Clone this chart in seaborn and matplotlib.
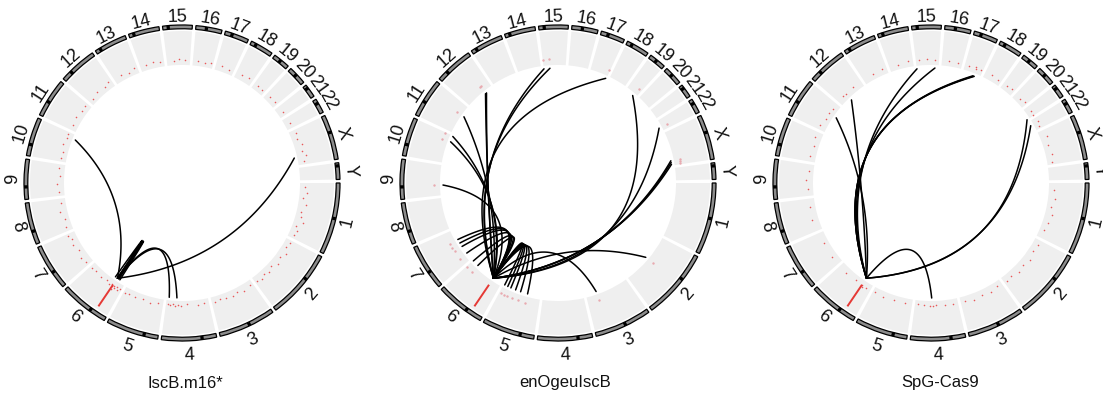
import numpy as np
import pandas as pd
import matplotlib
matplotlib.use("Agg")
import matplotlib.pyplot as plt
from matplotlib.patches import Wedge
import seaborn as sns

sns.set_theme(style="white")
plt.rcParams["font.family"] = ["Liberation Sans", "DejaVu Sans"]

# ---------------- data ----------------
chroms = [str(i) for i in range(1, 23)] + ["X", "Y"]
chrom_sizes = [248.96, 242.19, 198.30, 190.21, 181.54, 170.81, 159.35, 145.14,
               138.39, 133.80, 135.09, 133.28, 114.36, 107.04, 101.99, 90.34,
               83.26, 80.37, 58.62, 64.44, 46.71, 50.82, 156.04, 57.23]
centromeres = [123.4, 93.9, 90.9, 50.0, 48.8, 59.8, 60.1, 45.2, 43.0, 39.8, 53.4,
               35.5, 17.7, 17.2, 19.0, 36.8, 25.1, 18.5, 26.2, 28.1, 12.0, 15.0,
               60.6, 10.4]
panel_titles = ["IscB.m16*", "enOgeuIscB", "SpG-Cas9"]
target_chrom = "6"
target_pos = 43.7

links_iscb_chrom = ["10", "X", "4", "4", "6", "6", "6"]
links_iscb_pos = [112, 120, 143, 179, 30, 36, 55]

links_enog_chrom = ["15", "15", "17", "19", "22", "X", "X", "X", "2", "3",
                    "5", "5", "5", "5", "5", "5", "7", "7", "7", "7", "6", "6",
                    "9", "10", "10", "11", "12", "12"]
links_enog_pos = [1, 29, 80, 42, 33, 133, 141, 150, 117, 148,
                  61, 95, 120, 144, 160, 176, 109, 90, 71, 33, 168, 138,
                  47, 103, 130, 90, 91, 97]

links_spg_chrom = ["11", "12", "15", "15", "17", "17", "17", "21", "22", "4"]
links_spg_pos = [84, 47, 1, 85, 50, 54, 57, 46, 20, 116]

# scatter-track points (positions in Mb and track value), one inner list per chromosome
dots_iscb_pos = [[18, 42, 66, 95, 128, 150, 172, 196, 214, 236],
                 [12, 38, 61, 88, 115, 142, 168, 190, 212, 233],
                 [15, 48, 79, 104, 133, 160, 186],
                 [22, 48, 96, 122, 138, 150, 160, 171, 183],
                 [25, 58, 92, 126, 158, 175],
                 [8, 18, 26, 33, 38, 41, 46, 51, 60, 78, 105, 140, 162],
                 [15, 42, 75, 108, 130, 152],
                 [20, 55, 90, 125],
                 [18, 52, 88, 120],
                 [15, 45, 78, 105, 125],
                 [25, 62, 95, 120],
                 [20, 55, 92, 118],
                 [35, 70, 100],
                 [28, 60, 90],
                 [30, 55, 80],
                 [22, 55, 80],
                 [25, 60],
                 [28, 62],
                 [20, 45],
                 [22, 50],
                 [30],
                 [28],
                 [15, 42, 70, 98, 118, 140],
                 []]
dots_iscb_val = [[.35, .55, .25, .6, .3, .45, .7, .25, .5, .35],
                 [.4, .25, .55, .35, .6, .25, .45, .3, .5, .4],
                 [.3, .5, .25, .45, .35, .25, .4],
                 [.25, .3, .2, .3, .25, .35, .2, .3, .25],
                 [.3, .45, .25, .35, .3, .4],
                 [.35, .5, .3, .55, .4, .7, .45, .35, .5, .3, .4, .3, .45],
                 [.4, .6, .3, .5, .35, .55],
                 [.45, .3, .55, .35],
                 [.35, .5, .3, .45],
                 [.4, .3, .55, .35, .45],
                 [.35, .5, .3, .45],
                 [.3, .45, .35, .5],
                 [.4, .3, .45],
                 [.35, .45, .3],
                 [.3, .4, .35],
                 [.35, .3, .4],
                 [.4, .3],
                 [.35, .45],
                 [.4, .3],
                 [.35, .4],
                 [.4],
                 [.35],
                 [.5, .35, .6, .4, .7, .45],
                 []]

dots_spg_pos = [[30, 70, 105, 140, 175, 210],
                [20, 55, 95, 130, 165, 200, 230],
                [25, 60, 100, 140, 180],
                [20, 60, 95, 110, 125, 150, 175],
                [30, 80, 130, 170],
                [20, 38, 44, 80, 130],
                [40, 110],
                [50, 110],
                [30, 70, 110],
                [25, 70, 110],
                [20, 55, 84, 110],
                [30, 47, 90],
                [50, 95],
                [40, 85],
                [15, 50, 85],
                [30, 70],
                [20, 50, 54, 75],
                [30, 65],
                [20, 45],
                [30, 55],
                [25, 44],
                [20, 40],
                [30, 70, 110, 145],
                []]
dots_spg_val = [[.35, .5, .3, .55, .4, .3],
                [.4, .3, .55, .35, .5, .3, .45],
                [.3, .45, .35, .5, .3],
                [.3, .35, .25, .3, .35, .3, .25],
                [.35, .3, .4, .3],
                [.4, .5, .35, .3, .45],
                [.4, .3],
                [.45, .35],
                [.35, .5, .3],
                [.4, .3, .5],
                [.5, .35, .45, .3],
                [.4, .35, .45],
                [.35, .4],
                [.3, .45],
                [.35, .4, .3],
                [.4, .3],
                [.35, .45, .3, .4],
                [.4, .3],
                [.35, .4],
                [.3, .4],
                [.35, .3],
                [.4, .3],
                [.5, .35, .45, .3],
                []]

# ---------------- layout ----------------
W, H = 1103, 396
PX = 158.0                # pixels per unit radius
CY = 183.0
centers_px = [182, 558, 931]
title_px = [185, 565, 940]
HALF = 172

GAP = 1.3
scale = (360 - GAP * len(chroms)) / sum(chrom_sizes)
starts = {}
acc = 0.0
for i, (c, s) in enumerate(zip(chroms, chrom_sizes)):
    starts[c] = acc * scale + i * GAP
    acc += s

R_IDEO_OUT, R_IDEO_W = 1.0, 0.024
R_TRACK_OUT, R_TRACK_IN = 0.962, 0.747
R_LINK = 0.728
H_LINK = 0.285


def theta(c, pos):
    return starts[c] + pos * scale


def xy(th, r):
    a = np.radians(-th)
    return r * np.cos(a), r * np.sin(a)


def link_curve(th0, th1, n=80):
    p0 = np.array(xy(th0, R_LINK))
    p2 = np.array(xy(th1, R_LINK))
    mid = (th0 + th1) / 2.0
    if abs(th1 - th0) > 180:
        mid += 180
    apex = np.array(xy(mid, R_LINK - H_LINK))
    m = (p0 + p2) / 2.0
    ctrl = 2 * apex - m
    t = np.linspace(0, 1, n)[:, None]
    pts = (1 - t) ** 2 * p0 + 2 * (1 - t) * t * ctrl + t ** 2 * p2
    return pts


fig = plt.figure(figsize=(W / 100, H / 100), dpi=100)
fig.patch.set_facecolor("white")

panels = [
    (links_iscb_chrom, links_iscb_pos, dots_iscb_pos, dots_iscb_val),
    (links_enog_chrom, links_enog_pos, None, None),
    (links_spg_chrom, links_spg_pos, dots_spg_pos, dots_spg_val),
]

for k, (lc, lp, dpos, dval) in enumerate(panels):
    cx = centers_px[k]
    ax = fig.add_axes([(cx - HALF) / W, 0, 2 * HALF / W, 1])

    # sectors: gray track + ideogram ring
    for c, s, cen in zip(chroms, chrom_sizes, centromeres):
        t0, t1 = theta(c, 0), theta(c, s)
        ax.add_patch(Wedge((0, 0), R_TRACK_OUT, -t1, -t0,
                           width=R_TRACK_OUT - R_TRACK_IN,
                           facecolor="#efefef", edgecolor="none", zorder=1))
        ax.add_patch(Wedge((0, 0), R_IDEO_OUT, -t1, -t0, width=R_IDEO_W,
                           facecolor="#8c8c8c", edgecolor="black",
                           linewidth=0.9, zorder=2))
        tc = theta(c, cen)
        ax.add_patch(Wedge((0, 0), R_IDEO_OUT, -(tc + 0.6), -(tc - 0.6),
                           width=R_IDEO_W, facecolor="black",
                           edgecolor="none", zorder=3))
        # chromosome label
        th = theta(c, s / 2)
        phi = (-th) % 360
        rr = 1.07 - 0.02 * np.sin(np.radians(phi))
        x, y = xy(th, rr)
        rot = phi - 90 if phi <= 180 else phi + 90
        ax.text(x, y, c, rotation=rot, rotation_mode="anchor", ha="center",
                va="center", fontsize=13, color="#111111", zorder=5)

    # scatter track points
    xs, ys = [], []
    if dpos is not None:
        for c, plist, vlist in zip(chroms, dpos, dval):
            for p, v in zip(plist, vlist):
                x, y = xy(theta(c, p), 0.755 + 0.07 * v)
                xs.append(x)
                ys.append(y)
        sns.scatterplot(x=xs, y=ys, s=1.3, color="#e8585a", linewidth=0,
                        ax=ax, legend=False, zorder=4)
    else:
        for c, p in zip(lc, lp):
            x, y = xy(theta(c, p), 0.785)
            xs.append(x)
            ys.append(y)
        sns.scatterplot(x=xs, y=ys, s=3, color="#e8aab0", linewidth=0,
                        ax=ax, legend=False, zorder=4)

    # target site marker
    tt = theta(target_chrom, target_pos)
    p_in, p_out = xy(tt, 0.778), xy(tt, 0.943)
    ax.plot([p_in[0], p_out[0]], [p_in[1], p_out[1]], color="#e53935",
            lw=1.4, zorder=6, solid_capstyle="butt")

    # links
    rows = []
    for j, (c, p) in enumerate(zip(lc, lp)):
        pts = link_curve(tt, theta(c, p))
        for q in pts:
            rows.append((j, q[0], q[1]))
    df = pd.DataFrame(rows, columns=["link", "x", "y"])
    sns.lineplot(data=df, x="x", y="y", units="link", estimator=None,
                 sort=False, color="black", lw=1.1, ax=ax, legend=False,
                 zorder=7)
    ax.set_xlim(-HALF / PX, HALF / PX)
    ax.set_ylim(-(H - CY) / PX, CY / PX)
    ax.axis("off")

    ax.text((title_px[k] - cx) / PX, (CY - 383) / PX, panel_titles[k],
            ha="center", va="center", fontsize=12, color="#111111")

fig.savefig("out.png", dpi=100)
